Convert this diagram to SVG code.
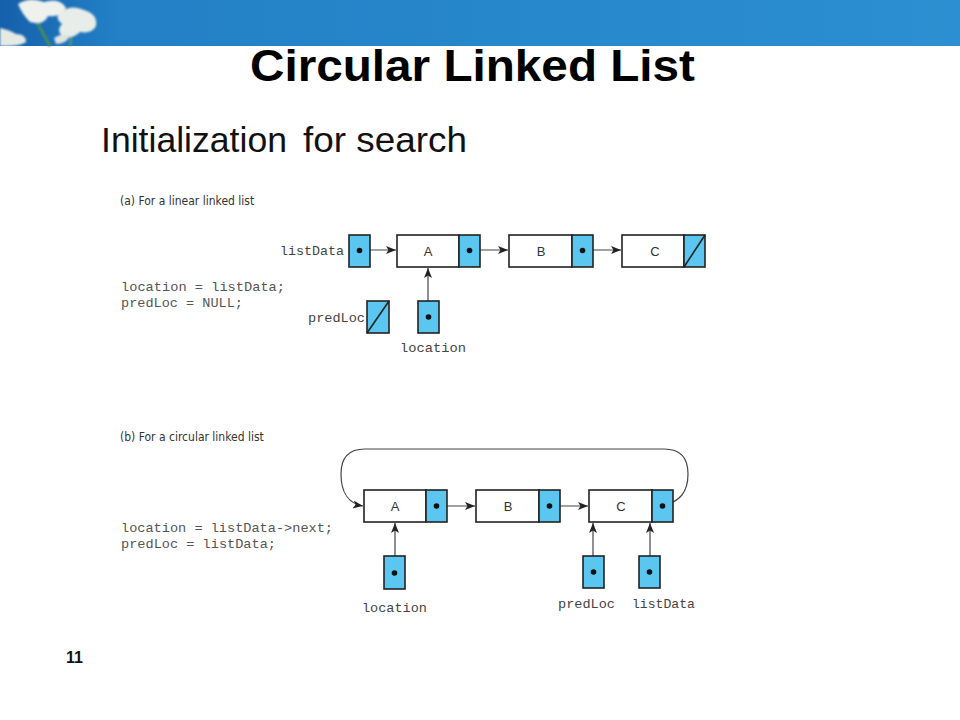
<svg xmlns="http://www.w3.org/2000/svg" width="960" height="720" viewBox="0 0 960 720">
<defs>
<linearGradient id="bar" x1="0" y1="0" x2="1" y2="0">
<stop offset="0" stop-color="#1560aa"/>
<stop offset="0.12" stop-color="#2380c6"/>
<stop offset="1" stop-color="#2b8fd0"/>
</linearGradient>
<filter id="soft" x="-10%" y="-10%" width="120%" height="120%"><feGaussianBlur stdDeviation="0.8"/></filter>
<marker id="ah" viewBox="0 0 10 8" refX="10" refY="4" markerWidth="10" markerHeight="8" markerUnits="userSpaceOnUse" orient="auto">
<path d="M0,0 L10,4 L0,8 L2.5,4 Z" fill="#222"/>
</marker>
<style>
.box{fill:#fff;stroke:#222;stroke-width:1.6}
.ptr{fill:#5bc6ef;stroke:#222;stroke-width:1.6}
.dot{fill:#111}
.conn{fill:none;stroke:#444;stroke-width:1.2;marker-end:url(#ah)}
.slash{stroke:#222;stroke-width:1.6}
.lbl{font-family:"Liberation Sans",Arial,sans-serif;font-size:13px;fill:#333;text-anchor:middle}
.mono{font-family:"Liberation Mono","Courier New",monospace;font-size:13px;fill:#555}
.cap{font-family:"DejaVu Sans Condensed","Liberation Sans",sans-serif;font-size:12px;fill:#333}
</style>
</defs>
<rect width="960" height="720" fill="#fff"/>
<g id="banner">
<rect x="0" y="0" width="960" height="46" fill="url(#bar)"/>
<g filter="url(#soft)">
<path d="M38,24 Q44,35 50,46" stroke="#4a8a5a" stroke-width="3" fill="none"/>
<path d="M70,30 Q72,40 70,46" stroke="#5a9a6a" stroke-width="2" fill="none"/>
<path d="M18,4 Q30,-4 44,2 Q60,-3 66,8 Q60,18 48,16 Q44,26 30,22 Q22,14 18,4 Z" fill="#eef1ec"/>
<path d="M60,12 Q72,4 84,10 Q98,14 96,26 Q92,34 80,32 Q72,40 62,36 Q56,30 62,24 Q54,18 60,12 Z" fill="#e9ede9"/>
<path d="M0,28 Q10,30 16,34 Q26,34 26,42 Q20,46 8,46 L0,46 Z" fill="#e6eae4"/>
<path d="M54,38 Q62,32 70,36 Q66,44 56,44 Z" fill="#dfe4df"/>
</g>
</g>
<text x="250" y="81" font-family="Liberation Sans,Arial,sans-serif" font-weight="bold" font-size="45" textLength="445" lengthAdjust="spacingAndGlyphs" fill="#000">Circular Linked List</text>
<text x="101" y="152" font-family="Liberation Sans,Arial,sans-serif" font-size="35" textLength="186" lengthAdjust="spacingAndGlyphs" fill="#111">Initialization</text>
<text x="303" y="152" font-family="Liberation Sans,Arial,sans-serif" font-size="35" textLength="164" lengthAdjust="spacingAndGlyphs" fill="#111">for search</text>
<text x="66" y="663" font-family="Liberation Sans,Arial,sans-serif" font-weight="bold" font-size="16" fill="#111">11</text>

<text class="cap" x="120" y="205">(a) For a linear linked list</text>
<text class="mono" x="121" y="291" textLength="164" lengthAdjust="spacingAndGlyphs">location = listData;</text>
<text class="mono" x="121" y="307" textLength="122" lengthAdjust="spacingAndGlyphs">predLoc = NULL;</text>

<g id="connectors">
<line class="conn" x1="359" y1="250" x2="396" y2="250"/>
<line class="conn" x1="469" y1="250" x2="508" y2="250"/>
<line class="conn" x1="582" y1="250" x2="621" y2="250"/>
<line class="conn" x1="428" y1="317" x2="428" y2="268"/>
<line class="conn" x1="436" y1="506" x2="475" y2="506"/>
<line class="conn" x1="549" y1="506" x2="588" y2="506"/>
<line class="conn" x1="395" y1="573" x2="395" y2="523"/>
<line class="conn" x1="593" y1="572" x2="593" y2="523"/>
<line class="conn" x1="650" y1="572" x2="650" y2="523"/>
<path class="conn" d="M662,506 C680,502 688,492 688,474 Q688,449 664,449 L365,449 Q341,449 341,474 C341,494 350,504 363,506"/>
</g>

<g id="a-listData">
<rect class="ptr" x="349" y="235" width="21" height="32"/>
<circle class="dot" cx="359.5" cy="250.5" r="2.8"/>
<text class="mono" x="280" y="255" textLength="64" lengthAdjust="spacingAndGlyphs" style="fill:#444">listData</text>
</g>
<g id="a-nodeA">
<rect class="box" x="397" y="235" width="62" height="32"/>
<rect class="ptr" x="459" y="235" width="21" height="32"/>
<circle class="dot" cx="469.5" cy="250.5" r="2.8"/>
<text class="lbl" x="428" y="256">A</text>
</g>
<g id="a-nodeB">
<rect class="box" x="509" y="235" width="63" height="32"/>
<rect class="ptr" x="572" y="235" width="21" height="32"/>
<circle class="dot" cx="582.5" cy="250.5" r="2.8"/>
<text class="lbl" x="541" y="256">B</text>
</g>
<g id="a-nodeC">
<rect class="box" x="622" y="235" width="62" height="32"/>
<rect class="ptr" x="684" y="235" width="21" height="32"/>
<line class="slash" x1="684" y1="267" x2="705" y2="235"/>
<text class="lbl" x="655" y="256">C</text>
</g>
<g id="a-predLoc">
<rect class="ptr" x="367" y="301" width="22" height="32"/>
<line class="slash" x1="367" y1="333" x2="389" y2="301"/>
<text class="mono" x="308" y="322" textLength="57" lengthAdjust="spacingAndGlyphs" style="fill:#444">predLoc</text>
</g>
<g id="a-location">
<rect class="ptr" x="418" y="301" width="21" height="32"/>
<circle class="dot" cx="428.5" cy="317" r="2.8"/>
<text class="mono" x="400" y="352" textLength="66" lengthAdjust="spacingAndGlyphs" style="fill:#444">location</text>
</g>

<text class="cap" x="120" y="441">(b) For a circular linked list</text>
<text class="mono" x="121" y="532" textLength="212" lengthAdjust="spacingAndGlyphs">location = listData-&gt;next;</text>
<text class="mono" x="121" y="548" textLength="155" lengthAdjust="spacingAndGlyphs">predLoc = listData;</text>

<g id="b-nodeA">
<rect class="box" x="364" y="490" width="62" height="32"/>
<rect class="ptr" x="426" y="490" width="21" height="32"/>
<circle class="dot" cx="436.5" cy="506" r="2.8"/>
<text class="lbl" x="395" y="511">A</text>
</g>
<g id="b-nodeB">
<rect class="box" x="476" y="490" width="63" height="32"/>
<rect class="ptr" x="539" y="490" width="21" height="32"/>
<circle class="dot" cx="549.5" cy="506" r="2.8"/>
<text class="lbl" x="508" y="511">B</text>
</g>
<g id="b-nodeC">
<rect class="box" x="589" y="490" width="63" height="32"/>
<rect class="ptr" x="652" y="490" width="21" height="32"/>
<circle class="dot" cx="662.5" cy="506" r="2.8"/>
<text class="lbl" x="621" y="511">C</text>
</g>
<g id="b-location">
<rect class="ptr" x="384" y="556" width="21" height="33"/>
<circle class="dot" cx="394.5" cy="573" r="2.8"/>
<text class="mono" x="362" y="612" textLength="65" lengthAdjust="spacingAndGlyphs" style="fill:#444">location</text>
</g>
<g id="b-predLoc">
<rect class="ptr" x="583" y="556" width="21" height="32"/>
<circle class="dot" cx="593.5" cy="572" r="2.8"/>
<text class="mono" x="558" y="608" textLength="57" lengthAdjust="spacingAndGlyphs" style="fill:#444">predLoc</text>
</g>
<g id="b-listData">
<rect class="ptr" x="639" y="556" width="21" height="32"/>
<circle class="dot" cx="649.5" cy="572" r="2.8"/>
<text class="mono" x="632" y="608" textLength="63" lengthAdjust="spacingAndGlyphs" style="fill:#444">listData</text>
</g>
</svg>
